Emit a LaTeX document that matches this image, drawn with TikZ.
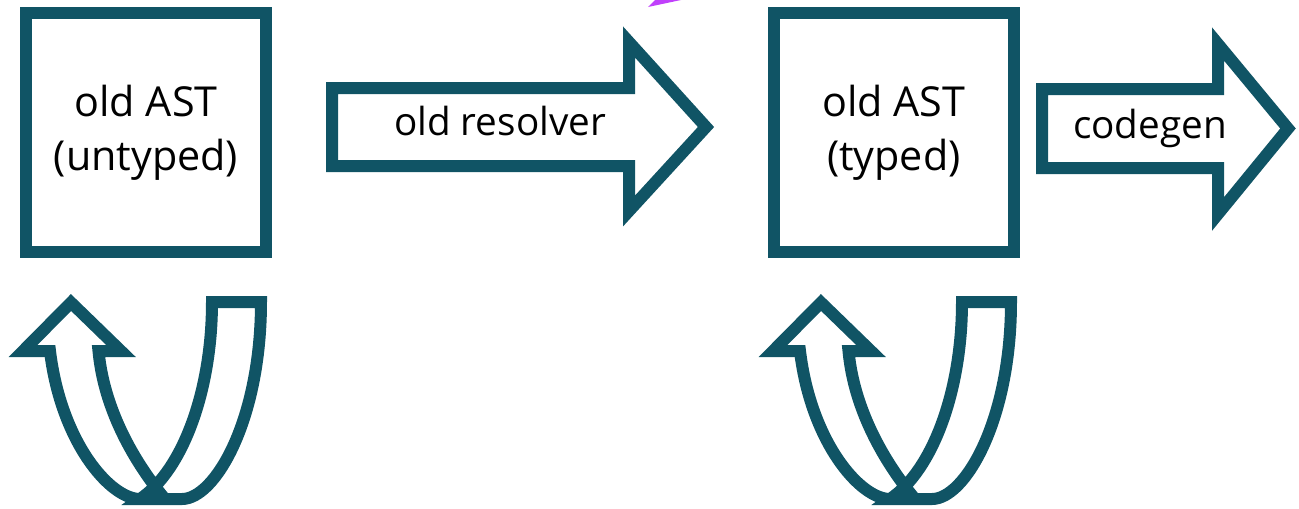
\documentclass[tikz,border=0pt]{standalone}
\usepackage{fontspec}
\setmainfont{Open Sans}
\usepackage{tikz}
\usetikzlibrary{positioning}
\definecolor{astteal}{RGB}{16,84,101}
\definecolor{spark}{RGB}{192,64,251}

\tikzset{
  astbox/.style={draw=astteal,line width=0.24cm,fill=white,align=center,inner sep=0pt,
    minimum width=4.8cm,minimum height=4.78cm,font=\fontsize{23.5}{30.7}\selectfont},
  blockarrow/.style={draw=astteal,line width=0.24cm,line join=miter},
  arrowtext/.style={font=\fontsize{22}{26}\selectfont,anchor=base,inner sep=0pt},
  uturn/.pic={
    \draw[blockarrow] (71,302.5) -- (121,351) -- (98.5,351)
      .. controls (105,420) and (145,475) .. (165,499) -- (140,499)
      .. controls (183,470) and (212,390) .. (212,302) -- (261,302)
      .. controls (261,420) and (215,499) .. (182,499) -- (140,499)
      .. controls (110,499) and (61,442) .. (50,351) -- (23,351) -- cycle;
  }
}

\begin{document}
\begin{tikzpicture}[x=0.02cm,y=-0.02cm]
\useasboundingbox (0,0) rectangle (1299,508);
% the two trees
\node[astbox] (untyped) at (146,132.5) {old AST\\(untyped)};
\node[astbox,right=9.92cm of untyped] (typed) {old AST\\(typed)};
% passes between them
\draw[blockarrow] (332,88) -- (629,88) -- (629,42) -- (706,127) -- (629,211) -- (629,166) -- (332,166) -- cycle;
\node[arrowtext] (resolver) at (500,135) {old resolver};
\draw[blockarrow] (1042,89) -- (1218,89) -- (1218,44) -- (1288,128.5) -- (1218,214) -- (1218,168) -- (1042,168) -- cycle;
\node[arrowtext] (codegen) at (1150,138) {codegen};
% loops back onto each tree
\pic at (0,0) {uturn};
\pic at (750,0) {uturn};
% cut-off mark at the top edge
\fill[spark] (655,0) -- (681,0) -- (648,7) -- cycle;
\end{tikzpicture}
\end{document}
